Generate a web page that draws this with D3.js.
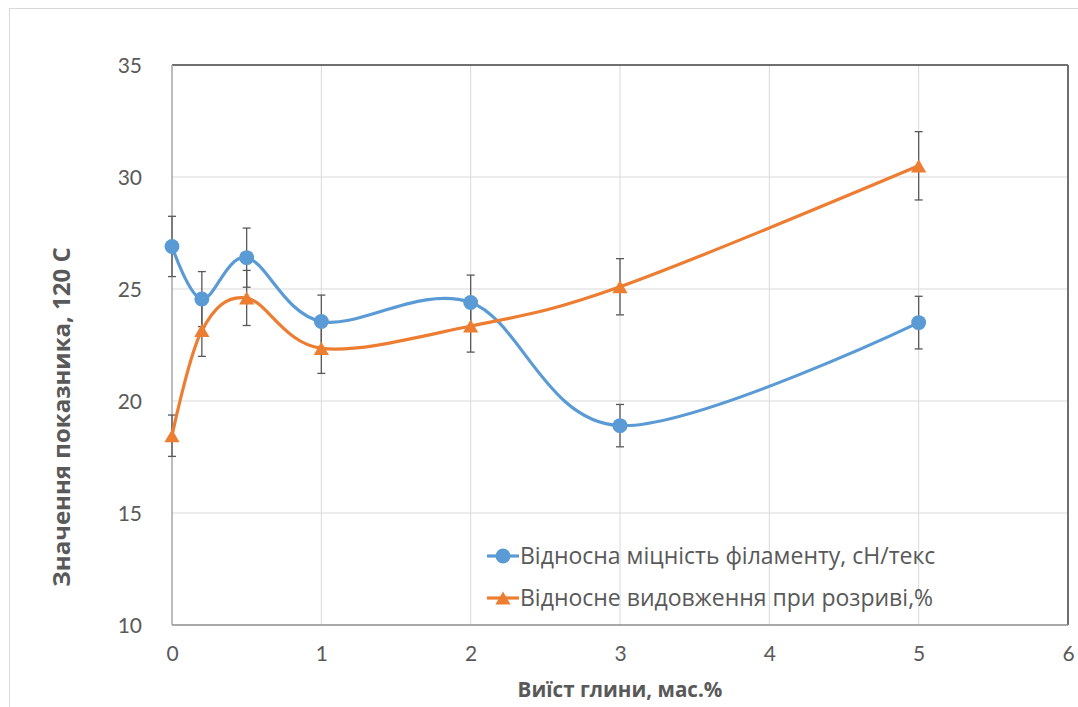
<!DOCTYPE html>
<html>
<head>
<meta charset="utf-8">
<script src="https://cdn.jsdelivr.net/npm/d3@7"></script>
<style>
  html, body { margin: 0; padding: 0; background: #fff; }
  svg { display: block; }
  text { font-family: "Open Sans", Lato, sans-serif; fill: #595959; }
</style>
</head>
<body>
<svg id="chart" width="1078" height="707"></svg>
<script>
// Clay content, mass %
const clayContent = [0, 0.2, 0.5, 1, 2, 3, 5];
// Relative tenacity of the filament, cN/tex
const tenacity = [26.9, 24.55, 26.4, 23.55, 24.4, 18.9, 23.5];
// Relative elongation at break, %
const elongation = [18.45, 23.15, 24.6, 22.35, 23.35, 25.1, 30.5];
// Error bars: percentage of the value
const errorPct = 5;

const xTicks = [0, 1, 2, 3, 4, 5, 6];
const yTicks = [10, 15, 20, 25, 30, 35];

const seriesNames = [
  "Відносна міцність філаменту, сН/текс",
  "Відносне видовження при розриві,%"
];
const seriesColors = ["#5B9BD5", "#ED7D31"];

const svg = d3.select("#chart");
const W = 1078, H = 707;
const plot = { left: 172, right: 1068, top: 65, bottom: 625 };

// outer chart frame
svg.append("rect")
  .attr("x", 9.5).attr("y", 8.5)
  .attr("width", W + 20).attr("height", H + 20)
  .attr("fill", "#fff").attr("stroke", "#d9d9d9").attr("stroke-width", 1);

const x = d3.scaleLinear().domain([0, 6]).range([plot.left, plot.right]);
const y = d3.scaleLinear().domain([10, 35]).range([plot.bottom, plot.top]);

// gridlines
svg.append("g")
  .selectAll("line").data(xTicks.slice(1, -1)).join("line")
  .attr("x1", d => x(d)).attr("x2", d => x(d))
  .attr("y1", plot.top).attr("y2", plot.bottom)
  .attr("stroke", "#d9d9d9").attr("stroke-width", 1);
svg.append("g")
  .selectAll("line").data(yTicks.slice(1, -1)).join("line")
  .attr("x1", plot.left).attr("x2", plot.right)
  .attr("y1", d => y(d)).attr("y2", d => y(d))
  .attr("stroke", "#d9d9d9").attr("stroke-width", 1);

// plot-area frame
svg.append("line")
  .attr("x1", plot.left).attr("x2", plot.right)
  .attr("y1", plot.top).attr("y2", plot.top)
  .attr("stroke", "#404040").attr("stroke-width", 1.5);
svg.append("line")
  .attr("x1", plot.right).attr("x2", plot.right)
  .attr("y1", plot.top).attr("y2", plot.bottom)
  .attr("stroke", "#6f6f6f").attr("stroke-width", 2);
svg.append("line")
  .attr("x1", plot.left).attr("x2", plot.right)
  .attr("y1", plot.bottom).attr("y2", plot.bottom)
  .attr("stroke", "#8c8c8c").attr("stroke-width", 1.5);
svg.append("line")
  .attr("x1", plot.left).attr("x2", plot.left)
  .attr("y1", plot.top).attr("y2", plot.bottom)
  .attr("stroke", "#a6a6a6").attr("stroke-width", 1.5);

// axes (labels only)
const xAxis = d3.axisBottom(x).tickValues(xTicks).tickSize(0).tickPadding(0).tickFormat(d3.format("d"));
const gx = svg.append("g").attr("transform", `translate(0,${plot.bottom})`).call(xAxis);
gx.select(".domain").remove();
gx.selectAll("text")
  .attr("y", 36).attr("dy", null)
  .style("font-family", "Lato, sans-serif")
  .style("font-size", "21px").style("fill", "#595959");

const yAxis = d3.axisLeft(y).tickValues(yTicks).tickSize(0).tickPadding(0).tickFormat(d3.format("d"));
const gy = svg.append("g").attr("transform", `translate(${plot.left},0)`).call(yAxis);
gy.select(".domain").remove();
gy.selectAll("text")
  .attr("x", -30).attr("dy", "0.35em")
  .style("font-family", "Lato, sans-serif")
  .style("font-size", "21px").style("fill", "#595959");

// axis titles
svg.append("text")
  .attr("x", (plot.left + plot.right) / 2).attr("y", 697)
  .attr("text-anchor", "middle")
  .style("font-size", "20.6px").style("font-weight", "bold")
  .text("Виїст глини, мас.%");
svg.append("text")
  .attr("transform", "translate(70,417) rotate(-90)")
  .attr("text-anchor", "middle")
  .style("font-size", "24px").style("font-weight", "bold")
  .text("Значення показника, 120 С");

const series = [tenacity, elongation].map((vals, i) => ({
  name: seriesNames[i],
  color: seriesColors[i],
  points: clayContent.map((c, j) => ({ x: c, y: vals[j] }))
}));

const line = d3.line()
  .x(d => x(d.x)).y(d => y(d.y))
  .curve(d3.curveCardinal.tension(0));

// error bars
const capHalf = 4;
series.forEach(s => {
  const g = svg.append("g").attr("stroke", "#595959").attr("stroke-width", 1.3);
  s.points.forEach(p => {
    const e = p.y * errorPct / 100;
    const cx = x(p.x), y1 = y(p.y + e), y2 = y(p.y - e);
    g.append("line").attr("x1", cx).attr("x2", cx).attr("y1", y1).attr("y2", y2);
    g.append("line").attr("x1", cx - capHalf).attr("x2", cx + capHalf).attr("y1", y1).attr("y2", y1);
    g.append("line").attr("x1", cx - capHalf).attr("x2", cx + capHalf).attr("y1", y2).attr("y2", y2);
  });
});

// smoothed lines
series.forEach(s => {
  svg.append("path")
    .datum(s.points)
    .attr("d", line)
    .attr("fill", "none")
    .attr("stroke", s.color)
    .attr("stroke-width", 3.2)
    .attr("stroke-linejoin", "round");
});

// markers
const circleSize = 175, triSize = 100;
const triR = Math.sqrt(triSize / (3 * Math.sqrt(3)));   // d3 triangle half-height unit
const circleSym = d3.symbol().type(d3.symbolCircle).size(circleSize);
const triSym = d3.symbol().type(d3.symbolTriangle).size(triSize);
function drawMarker(g, idx, cx, cy) {
  g.append("path")
    .attr("d", idx === 0 ? circleSym() : triSym())
    .attr("transform", `translate(${cx},${cy + (idx === 0 ? 0 : triR / 2)})`)
    .attr("fill", seriesColors[idx]);
}
series.forEach((s, i) => {
  const g = svg.append("g");
  s.points.forEach(p => drawMarker(g, i, x(p.x), y(p.y)));
});

// legend
const legend = { x: 487, y: 556, dy: 42 };
series.forEach((s, i) => {
  const ly = legend.y + i * legend.dy;
  const g = svg.append("g");
  g.append("line")
    .attr("x1", legend.x).attr("x2", legend.x + 32)
    .attr("y1", ly).attr("y2", ly)
    .attr("stroke", s.color).attr("stroke-width", 3.2);
  drawMarker(g, i, legend.x + 16, ly);
  g.append("text")
    .attr("x", legend.x + 33).attr("y", ly).attr("dy", "0.35em")
    .style("font-size", "23px")
    .text(s.name);
});
</script>
</body>
</html>
